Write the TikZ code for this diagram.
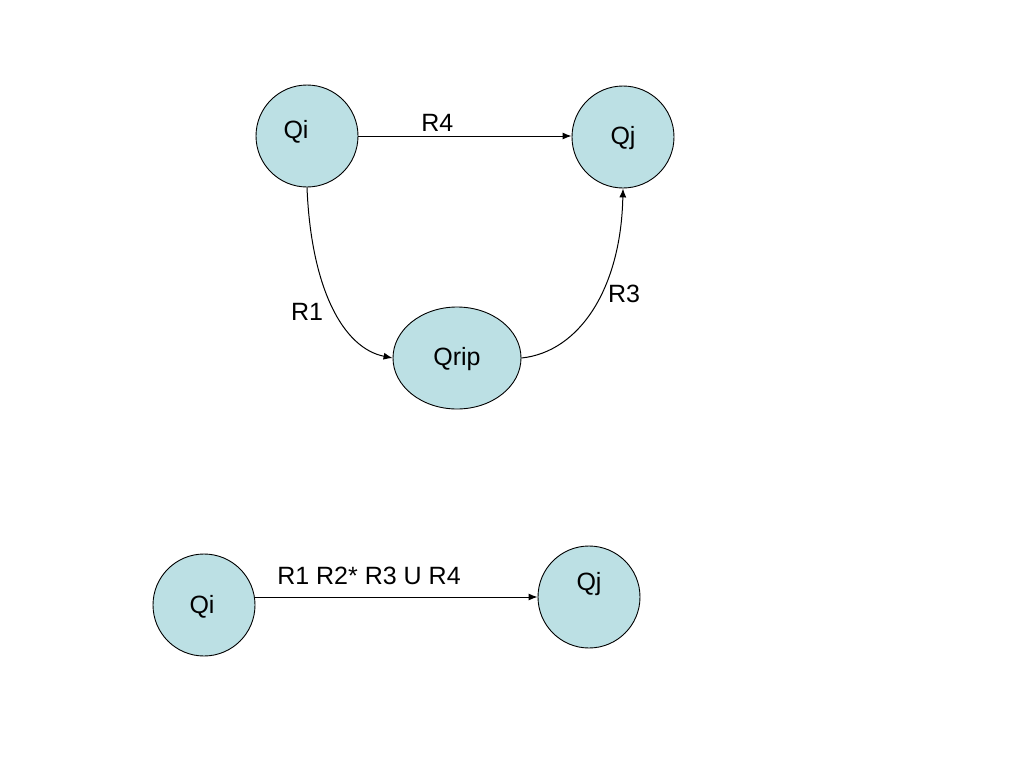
\documentclass[tikz,border=0pt]{standalone}
\usepackage{fontspec}
\setmainfont{Liberation Sans}
\usetikzlibrary{arrows.meta,shapes.geometric}
\definecolor{statefill}{RGB}{188,224,228}
\tikzset{
  state/.style={circle,draw=black,line width=0.9pt,fill=statefill,minimum size=102pt,inner sep=0pt},
  ripstate/.style={ellipse,draw=black,line width=0.9pt,fill=statefill,minimum width=128pt,minimum height=102pt,inner sep=0pt},
  lbl/.style={font=\fontsize{25}{28}\selectfont,inner sep=0pt},
  edge/.style={line width=1pt,-{Latex[length=9pt,width=7pt]}}
}
\begin{document}
\begin{tikzpicture}[x=1pt,y=-1pt]
\useasboundingbox (0,0) rectangle (1024,768);
\node[state,label={[lbl,xshift=-11pt,yshift=4pt]center:Qi}] (qi) at (307,136) {};
\node[state,label={[lbl,yshift=-1pt]center:Qj}] (qj) at (623,137) {};
\node[ripstate,label={[lbl,yshift=-1pt]center:Qrip}] (qrip) at (457,358) {};
\node[state,label={[lbl,xshift=-2pt,yshift=-2pt]center:Qi}] (qi2) at (204,605) {};
\node[state,label={[lbl,yshift=13pt]center:Qj}] (qj2) at (589,597) {};

\draw[edge] (qi.east) -- node[lbl,above=4pt,pos=0.37] (r4) {R4} (qi.east -| qj.west);
\draw[edge] (qi.south) .. controls +(4,100) and +(-50,-10) .. (qrip.west);
\node[lbl] (r1) at (307,312) {R1};
\draw[edge] (qrip.east) .. controls +(58,-6) and +(-2,100) .. (qj.south);
\node[lbl] (r3) at (624,294) {R3};
\draw[edge] (qi2.east |- qj2.west) -- (qj2.west);
\node[lbl] (rr) at (369,576) {R1 R2* R3 U R4};
\end{tikzpicture}
\end{document}
